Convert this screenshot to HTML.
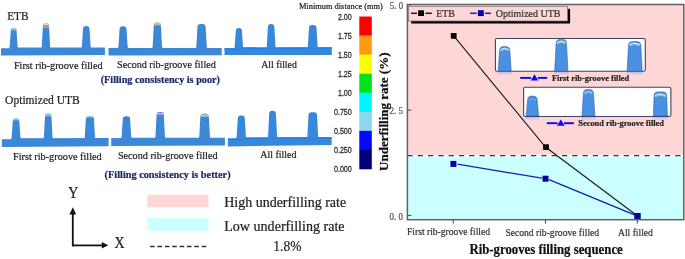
<!DOCTYPE html>
<html><head><meta charset="utf-8"><title>Rib-groove filling</title>
<style>
html,body{margin:0;padding:0;background:#fff;}
body{width:685px;height:259px;overflow:hidden;font-family:"Liberation Serif",serif;}
svg{display:block;filter:blur(0.3px);}
</style></head>
<body>
<svg width="685" height="259" viewBox="0 0 685 259">
<defs>
<linearGradient id="refl" x1="0" y1="0" x2="0" y2="1">
<stop offset="0" stop-color="#a8a4cc" stop-opacity="0.85"/>
<stop offset="1" stop-color="#ffffff" stop-opacity="0"/>
</linearGradient>
</defs>
<rect width="685" height="259" fill="#fff"/>
<text x="0" y="0" transform="translate(7.20 20.00) scale(0.9091 1)" font-family="Liberation Serif" font-size="12.43" stroke="#222" stroke-width="0.22" fill="#222">ETB</text>
<polygon points="1,48.30 13.65,48.31 13.65,47.41 104.9,47.50 104.9,55.00 1,55.40" fill="#3d87d9"/>
<path d="M8.27,48.81 L8.27,48.31 Q9.57,48.31 9.65,47.01 L10.77,30.68 Q10.82,27.80 13.65,27.80 L13.65,27.80 Q16.48,27.80 16.53,30.68 L17.65,47.01 Q17.73,48.31 19.03,48.31 L19.03,48.81 Z" fill="#3d87d9"/><clipPath id="rc1"><path d="M8.27,48.81 L8.27,48.31 Q9.57,48.31 9.65,47.01 L10.77,30.68 Q10.82,27.80 13.65,27.80 L13.65,27.80 Q16.48,27.80 16.53,30.68 L17.65,47.01 Q17.73,48.31 19.03,48.31 L19.03,48.81 Z"/></clipPath><g clip-path="url(#rc1)"><rect x="8.57" y="27.00" width="10.15" height="1.80" fill="#c4dcea"/><rect x="8.57" y="28.80" width="10.15" height="1.10" fill="#78dc8c"/><rect x="8.57" y="29.90" width="10.15" height="0.50" fill="#90c8d8"/></g>
<path d="M40.38,48.84 L40.38,48.34 Q41.68,48.34 41.74,47.04 L42.88,26.30 Q42.93,23.30 45.88,23.30 L46.02,23.30 Q48.98,23.30 49.02,26.30 L50.16,47.04 Q50.23,48.34 51.52,48.34 L51.52,48.84 Z" fill="#3d87d9"/><clipPath id="rc2"><path d="M40.38,48.84 L40.38,48.34 Q41.68,48.34 41.74,47.04 L42.88,26.30 Q42.93,23.30 45.88,23.30 L46.02,23.30 Q48.98,23.30 49.02,26.30 L50.16,47.04 Q50.23,48.34 51.52,48.34 L51.52,48.84 Z"/></clipPath><g clip-path="url(#rc2)"><rect x="40.68" y="23.00" width="10.55" height="2.40" fill="#e2dede"/><rect x="40.68" y="25.40" width="10.55" height="1.50" fill="#f07868"/><rect x="40.68" y="26.90" width="10.55" height="0.70" fill="#b8d0a0"/></g>
<path d="M80.48,48.88 L80.48,48.38 Q81.78,48.38 81.84,47.08 L82.98,28.90 Q83.03,25.90 85.98,25.90 L86.52,25.90 Q89.47,25.90 89.52,28.90 L90.66,47.08 Q90.72,48.38 92.02,48.38 L92.02,48.88 Z" fill="#3d87d9"/>
<polygon points="108.5,48.10 123.05,48.11 123.05,47.91 221.7,48.00 221.7,55.30 108.5,55.40" fill="#3d87d9"/>
<path d="M117.08,48.61 L117.08,48.11 Q118.38,48.11 118.45,46.81 L119.58,29.30 Q119.62,26.30 122.58,26.30 L123.52,26.30 Q126.47,26.30 126.52,29.30 L127.65,46.81 Q127.72,48.11 129.03,48.11 L129.03,48.61 Z" fill="#3d87d9"/>
<path d="M151.27,48.64 L151.27,48.14 Q152.57,48.14 152.64,46.84 L153.77,25.40 Q153.82,22.40 156.77,22.40 L157.93,22.40 Q160.88,22.40 160.93,25.40 L162.06,46.84 Q162.12,48.14 163.43,48.14 L163.43,48.64 Z" fill="#3d87d9"/><clipPath id="rc3"><path d="M151.27,48.64 L151.27,48.14 Q152.57,48.14 152.64,46.84 L153.77,25.40 Q153.82,22.40 156.77,22.40 L157.93,22.40 Q160.88,22.40 160.93,25.40 L162.06,46.84 Q162.12,48.14 163.43,48.14 L163.43,48.64 Z"/></clipPath><g clip-path="url(#rc3)"><rect x="151.57" y="22.00" width="11.55" height="1.60" fill="#dcdcd4"/><rect x="151.57" y="23.60" width="11.55" height="1.10" fill="#e8e448"/><rect x="151.57" y="24.70" width="11.55" height="0.70" fill="#a8d890"/></g>
<path d="M194.97,48.68 L194.97,48.18 Q196.28,48.18 196.34,46.88 L197.47,27.00 Q197.53,24.00 200.47,24.00 L202.63,24.00 Q205.58,24.00 205.63,27.00 L206.76,46.88 Q206.83,48.18 208.13,48.18 L208.13,48.68 Z" fill="#3d87d9"/>
<polygon points="224.5,48.30 238.85,48.29 238.85,47.39 331.8,47.30 331.8,54.90 224.5,54.90" fill="#3787dc"/>
<polygon points="224.5,48.30 238.85,48.29 238.85,47.39 331.8,47.30 331.8,49.00 238.85,49.09 238.85,49.99 224.5,50.00" fill="#1f81ea"/>
<path d="M233.27,48.79 L233.27,48.29 Q234.57,48.29 234.65,46.99 L235.77,31.00 Q235.82,28.00 238.77,28.00 L238.93,28.00 Q241.88,28.00 241.93,31.00 L243.05,46.99 Q243.12,48.29 244.43,48.29 L244.43,48.79 Z" fill="#3787dc"/>
<path d="M265.38,48.76 L265.38,48.26 Q266.68,48.26 266.74,46.96 L267.88,27.00 Q267.93,24.00 270.88,24.00 L271.33,24.00 Q274.28,24.00 274.33,27.00 L275.46,46.96 Q275.53,48.26 276.83,48.26 L276.83,48.76 Z" fill="#3787dc"/>
<path d="M306.47,48.72 L306.47,48.22 Q307.77,48.22 307.84,46.92 L308.97,28.10 Q309.02,25.10 311.97,25.10 L313.53,25.10 Q316.48,25.10 316.53,28.10 L317.66,46.92 Q317.73,48.22 319.03,48.22 L319.03,48.72 Z" fill="#3787dc"/>
<text x="0" y="0" transform="translate(13.90 68.60) scale(0.9259 1)" font-family="Liberation Serif" font-size="11.07" stroke="#222" stroke-width="0.22" fill="#222">First rib-groove filled</text>
<text x="0" y="0" transform="translate(117.10 67.70) scale(0.9259 1)" font-family="Liberation Serif" font-size="10.91" stroke="#222" stroke-width="0.22" fill="#222">Second rib-groove filled</text>
<text x="0" y="0" transform="translate(261.20 68.20) scale(0.9259 1)" font-family="Liberation Serif" font-size="10.58" stroke="#222" stroke-width="0.22" fill="#222">All filled</text>
<text x="0" y="0" transform="translate(100.70 82.70) scale(0.9259 1)" font-family="Liberation Serif" font-size="11.02" font-weight="bold" stroke="#1a2a68" stroke-width="0.22" fill="#1a2a68">(Filling consistency is poor)</text>
<text x="0" y="0" transform="translate(5.10 104.20) scale(0.9091 1)" font-family="Liberation Serif" font-size="12.71" stroke="#222" stroke-width="0.22" fill="#222">Optimized UTB</text>
<polygon points="1.8,139.20 16.05,139.16 16.05,138.26 108.6,138.00 108.6,146.20 1.8,147.00" fill="#3d87d9"/>
<path d="M10.28,139.66 L10.28,139.16 Q11.58,139.16 11.65,137.86 L12.78,121.30 Q12.83,118.30 15.78,118.30 L16.32,118.30 Q19.27,118.30 19.32,121.30 L20.45,137.86 Q20.52,139.16 21.82,139.16 L21.82,139.66 Z" fill="#3d87d9"/><clipPath id="rc4"><path d="M10.28,139.66 L10.28,139.16 Q11.58,139.16 11.65,137.86 L12.78,121.30 Q12.83,118.30 15.78,118.30 L16.32,118.30 Q19.27,118.30 19.32,121.30 L20.45,137.86 Q20.52,139.16 21.82,139.16 L21.82,139.66 Z"/></clipPath><g clip-path="url(#rc4)"><rect x="10.58" y="118.00" width="10.95" height="1.40" fill="#c8e0f0"/><rect x="10.58" y="119.40" width="10.95" height="0.90" fill="#a0dcd8"/></g>
<path d="M42.48,139.57 L42.48,139.07 Q43.78,139.07 43.84,137.77 L44.98,116.60 Q45.03,113.60 47.98,113.60 L48.42,113.60 Q51.38,113.60 51.42,116.60 L52.56,137.77 Q52.62,139.07 53.92,139.07 L53.92,139.57 Z" fill="#3d87d9"/><clipPath id="rc5"><path d="M42.48,139.57 L42.48,139.07 Q43.78,139.07 43.84,137.77 L44.98,116.60 Q45.03,113.60 47.98,113.60 L48.42,113.60 Q51.38,113.60 51.42,116.60 L52.56,137.77 Q52.62,139.07 53.92,139.07 L53.92,139.57 Z"/></clipPath><g clip-path="url(#rc5)"><rect x="42.78" y="113.00" width="10.85" height="1.60" fill="#c8e4dc"/><rect x="42.78" y="114.60" width="10.85" height="1.30" fill="#78d890"/><rect x="42.78" y="115.90" width="10.85" height="0.60" fill="#90c8c8"/></g>
<path d="M83.38,139.45 L83.38,138.95 Q84.68,138.95 84.74,137.65 L85.88,119.00 Q85.93,116.00 88.88,116.00 L90.92,116.00 Q93.88,116.00 93.92,119.00 L95.06,137.65 Q95.12,138.95 96.42,138.95 L96.42,139.45 Z" fill="#3d87d9"/><clipPath id="rc6"><path d="M83.38,139.45 L83.38,138.95 Q84.68,138.95 84.74,137.65 L85.88,119.00 Q85.93,116.00 88.88,116.00 L90.92,116.00 Q93.88,116.00 93.92,119.00 L95.06,137.65 Q95.12,138.95 96.42,138.95 L96.42,139.45 Z"/></clipPath><g clip-path="url(#rc6)"><rect x="83.68" y="116.40" width="12.45" height="0.90" fill="#d8e8f4"/></g>
<polygon points="111.2,138.10 126.45,138.13 126.45,137.63 224.9,137.80 224.9,145.40 111.2,146.10" fill="#3d87d9"/>
<path d="M120.28,138.63 L120.28,138.13 Q121.58,138.13 121.65,136.83 L122.78,119.20 Q122.83,116.20 125.78,116.20 L127.12,116.20 Q130.07,116.20 130.12,119.20 L131.25,136.83 Q131.32,138.13 132.62,138.13 L132.62,138.63 Z" fill="#3d87d9"/><clipPath id="rc7"><path d="M120.28,138.63 L120.28,138.13 Q121.58,138.13 121.65,136.83 L122.78,119.20 Q122.83,116.20 125.78,116.20 L127.12,116.20 Q130.07,116.20 130.12,119.20 L131.25,136.83 Q131.32,138.13 132.62,138.13 L132.62,138.63 Z"/></clipPath><g clip-path="url(#rc7)"><rect x="120.58" y="118.40" width="11.75" height="0.60" fill="#3a78c0"/></g>
<path d="M154.07,138.69 L154.07,138.19 Q155.38,138.19 155.43,136.89 L156.57,115.10 Q156.62,112.10 159.57,112.10 L160.82,112.10 Q163.77,112.10 163.82,115.10 L164.97,136.89 Q165.02,138.19 166.32,138.19 L166.32,138.69 Z" fill="#3d87d9"/><clipPath id="rc8"><path d="M154.07,138.69 L154.07,138.19 Q155.38,138.19 155.43,136.89 L156.57,115.10 Q156.62,112.10 159.57,112.10 L160.82,112.10 Q163.77,112.10 163.82,115.10 L164.97,136.89 Q165.02,138.19 166.32,138.19 L166.32,138.69 Z"/></clipPath><g clip-path="url(#rc8)"><rect x="154.38" y="111.80" width="11.65" height="1.20" fill="#8a80c8"/><rect x="154.38" y="113.00" width="11.65" height="1.60" fill="#b4bce8"/><rect x="154.38" y="114.60" width="11.65" height="0.60" fill="#7aa0d8"/></g>
<path d="M197.87,138.76 L197.87,138.26 Q199.17,138.26 199.24,136.96 L200.37,116.70 Q200.42,113.70 203.37,113.70 L205.83,113.70 Q208.78,113.70 208.83,116.70 L209.96,136.96 Q210.03,138.26 211.33,138.26 L211.33,138.76 Z" fill="#3d87d9"/><clipPath id="rc9"><path d="M197.87,138.76 L197.87,138.26 Q199.17,138.26 199.24,136.96 L200.37,116.70 Q200.42,113.70 203.37,113.70 L205.83,113.70 Q208.78,113.70 208.83,116.70 L209.96,136.96 Q210.03,138.26 211.33,138.26 L211.33,138.76 Z"/></clipPath><g clip-path="url(#rc9)"><rect x="198.17" y="113.40" width="12.85" height="1.20" fill="#8aa0c8"/><rect x="198.17" y="114.60" width="12.85" height="1.00" fill="#bef0f0"/><rect x="198.17" y="115.60" width="12.85" height="1.00" fill="#c8e070"/><rect x="198.17" y="116.60" width="12.85" height="0.50" fill="#80b8c0"/></g>
<polygon points="227.9,138.50 241.30,138.42 241.30,137.52 331.6,137.00 331.6,144.90 227.9,146.50" fill="#3787dc"/>
<polygon points="227.9,138.50 241.30,138.42 241.30,137.52 331.6,137.00 331.6,138.70 241.30,139.22 241.30,140.12 227.9,140.20" fill="#1f81ea"/>
<path d="M235.28,138.92 L235.28,138.42 Q236.58,138.42 236.64,137.12 L237.78,118.40 Q237.83,115.40 240.78,115.40 L241.83,115.40 Q244.78,115.40 244.83,118.40 L245.96,137.12 Q246.03,138.42 247.33,138.42 L247.33,138.92 Z" fill="#3787dc"/>
<path d="M266.68,138.74 L266.68,138.24 Q267.98,138.24 268.03,136.94 L269.18,113.80 Q269.23,110.80 272.18,110.80 L272.93,110.80 Q275.88,110.80 275.93,113.80 L277.07,136.94 Q277.12,138.24 278.43,138.24 L278.43,138.74 Z" fill="#3787dc"/>
<path d="M305.97,138.51 L305.97,138.01 Q307.27,138.01 307.34,136.71 L308.47,115.20 Q308.52,112.20 311.47,112.20 L314.03,112.20 Q316.98,112.20 317.03,115.20 L318.16,136.71 Q318.23,138.01 319.53,138.01 L319.53,138.51 Z" fill="#3787dc"/>
<text x="0" y="0" transform="translate(13.00 159.80) scale(0.9259 1)" font-family="Liberation Serif" font-size="11.07" stroke="#222" stroke-width="0.22" fill="#222">First rib-groove filled</text>
<text x="0" y="0" transform="translate(117.90 158.90) scale(0.9259 1)" font-family="Liberation Serif" font-size="11.02" stroke="#222" stroke-width="0.22" fill="#222">Second rib-groove filled</text>
<text x="0" y="0" transform="translate(260.20 158.10) scale(0.9259 1)" font-family="Liberation Serif" font-size="10.75" stroke="#222" stroke-width="0.22" fill="#222">All filled</text>
<text x="0" y="0" transform="translate(104.60 177.60) scale(0.9259 1)" font-family="Liberation Serif" font-size="11.12" font-weight="bold" stroke="#1a2a68" stroke-width="0.22" fill="#1a2a68">(Filling consistency is better)</text>
<text x="0" y="0" transform="translate(298.90 9.20) scale(0.9524 1)" font-family="Liberation Serif" font-size="8.82" stroke="#222" stroke-width="0.22" fill="#222">Minimum distance (mm)</text>
<rect x="359.3" y="16.50" width="12.5" height="19.36" fill="#ff0000"/>
<rect x="359.3" y="35.56" width="12.5" height="19.36" fill="#ff9a10"/>
<rect x="359.3" y="54.62" width="12.5" height="19.36" fill="#ffff00"/>
<rect x="359.3" y="73.69" width="12.5" height="19.36" fill="#00e21c"/>
<rect x="359.3" y="92.75" width="12.5" height="19.36" fill="#00f4ff"/>
<rect x="359.3" y="111.81" width="12.5" height="19.36" fill="#8cd6f0"/>
<rect x="359.3" y="130.88" width="12.5" height="19.36" fill="#0008ff"/>
<rect x="359.3" y="149.94" width="12.5" height="19.36" fill="#00007a"/>
<text x="0" y="0" transform="translate(351.8 19.80) scale(0.86 1)" text-anchor="end" font-family="Liberation Sans" font-size="8.3" fill="#2a2a2a" stroke="#2a2a2a" stroke-width="0.25">2.00</text>
<text x="0" y="0" transform="translate(351.8 38.86) scale(0.86 1)" text-anchor="end" font-family="Liberation Sans" font-size="8.3" fill="#2a2a2a" stroke="#2a2a2a" stroke-width="0.25">1.75</text>
<text x="0" y="0" transform="translate(351.8 57.92) scale(0.86 1)" text-anchor="end" font-family="Liberation Sans" font-size="8.3" fill="#2a2a2a" stroke="#2a2a2a" stroke-width="0.25">1.50</text>
<text x="0" y="0" transform="translate(351.8 76.99) scale(0.86 1)" text-anchor="end" font-family="Liberation Sans" font-size="8.3" fill="#2a2a2a" stroke="#2a2a2a" stroke-width="0.25">1.25</text>
<text x="0" y="0" transform="translate(351.8 96.05) scale(0.86 1)" text-anchor="end" font-family="Liberation Sans" font-size="8.3" fill="#2a2a2a" stroke="#2a2a2a" stroke-width="0.25">1.00</text>
<text x="0" y="0" transform="translate(351.8 115.11) scale(0.86 1)" text-anchor="end" font-family="Liberation Sans" font-size="8.3" fill="#2a2a2a" stroke="#2a2a2a" stroke-width="0.25">0.750</text>
<text x="0" y="0" transform="translate(351.8 134.18) scale(0.86 1)" text-anchor="end" font-family="Liberation Sans" font-size="8.3" fill="#2a2a2a" stroke="#2a2a2a" stroke-width="0.25">0.500</text>
<text x="0" y="0" transform="translate(351.8 153.24) scale(0.86 1)" text-anchor="end" font-family="Liberation Sans" font-size="8.3" fill="#2a2a2a" stroke="#2a2a2a" stroke-width="0.25">0.250</text>
<text x="0" y="0" transform="translate(351.8 172.30) scale(0.86 1)" text-anchor="end" font-family="Liberation Sans" font-size="8.3" fill="#2a2a2a" stroke="#2a2a2a" stroke-width="0.25">0.000</text>
<text x="0" y="0" transform="translate(68.30 198.00) scale(0.8929 1)" font-family="Liberation Serif" font-size="15.68" stroke="#222" stroke-width="0.22" fill="#222">Y</text>
<line x1="72.8" y1="213" x2="72.8" y2="246.3" stroke="#111" stroke-width="1.8"/>
<polygon points="72.8,207.3 69.4,214.6 76.2,214.6" fill="#111"/>
<line x1="72" y1="245.4" x2="103" y2="245.4" stroke="#111" stroke-width="1.8"/>
<polygon points="108.2,245.3 101.8,242.0 101.8,248.6" fill="#111"/>
<text x="0" y="0" transform="translate(114.40 248.00) scale(0.8929 1)" font-family="Liberation Serif" font-size="15.68" stroke="#222" stroke-width="0.22" fill="#222">X</text>
<rect x="147.5" y="194.8" width="61" height="12.5" fill="#ffd6d6"/>
<rect x="147.5" y="218" width="61" height="12.8" fill="#ccffff"/>
<line x1="150.1" y1="246.5" x2="206.3" y2="246.5" stroke="#303030" stroke-width="1.7" stroke-dasharray="4.6 2.77"/>
<text x="0" y="0" transform="translate(224.20 207.30) scale(0.9804 1)" font-family="Liberation Serif" font-size="14.28" stroke="#222" stroke-width="0.22" fill="#222">High underfilling rate</text>
<text x="0" y="0" transform="translate(224.20 231.00) scale(0.9804 1)" font-family="Liberation Serif" font-size="14.38" stroke="#222" stroke-width="0.22" fill="#222">Low underfilling rate</text>
<text x="0" y="0" transform="translate(273.30 251.40) scale(0.9259 1)" font-family="Liberation Serif" font-size="14.58" stroke="#222" stroke-width="0.22" fill="#222">1.8%</text>
<rect x="407.4" y="4.5" width="276.4" height="150.3" fill="#ffd6d6"/>
<rect x="407.4" y="156.3" width="276.4" height="63.4" fill="#ccffff"/>
<line x1="407.4" y1="155.6" x2="683.8" y2="155.6" stroke="#3a3a3a" stroke-width="1.4" stroke-dasharray="5.3 5.0"/>
<rect x="497.4" y="71.3" width="14.6" height="7" fill="url(#refl)"/>
<rect x="553.9" y="71.3" width="14.8" height="7" fill="url(#refl)"/>
<rect x="626.3" y="71.3" width="16.7" height="7" fill="url(#refl)"/>
<rect x="495.4" y="38.5" width="149.9" height="32.8" rx="1.8" fill="#fff" stroke="#3b4468" stroke-width="1.1"/>
<path d="M498.20,70.70 L499.60,50.80 Q499.60,46.60 503.80,46.60 L505.60,46.60 Q509.80,46.60 509.80,50.80 L511.20,70.70 Z" fill="#4a90e2" stroke="#2c62b8" stroke-width="0.6"/>
<path d="M554.70,70.70 L556.10,43.60 Q556.10,39.40 560.30,39.40 L562.30,39.40 Q566.50,39.40 566.50,43.60 L567.90,70.70 Z" fill="#4a90e2" stroke="#2c62b8" stroke-width="0.6"/>
<path d="M627.10,70.70 L628.50,45.80 Q628.50,41.60 632.70,41.60 L636.60,41.60 Q640.80,41.60 640.80,45.80 L642.20,70.70 Z" fill="#4a90e2" stroke="#2c62b8" stroke-width="0.6"/>
<path d="M500.60,49.60 Q504.70,46.80 508.80,49.60" fill="none" stroke="#e8f4fa" stroke-width="1.0"/>
<path d="M500.60,50.80 Q504.70,48.00 508.80,50.80" fill="none" stroke="#a8e090" stroke-width="0.9"/>
<path d="M557.10,42.40 Q561.30,39.60 565.50,42.40" fill="none" stroke="#eef6fa" stroke-width="1.0"/>
<path d="M557.10,43.70 Q561.30,40.90 565.50,43.70" fill="none" stroke="#b8e070" stroke-width="1.0"/>
<path d="M629.50,44.80 Q634.65,42.00 639.80,44.80" fill="none" stroke="#f0f6fa" stroke-width="1.1"/>
<path d="M629.50,46.00 Q634.65,43.20 639.80,46.00" fill="none" stroke="#b0d0f0" stroke-width="0.6"/>
<rect x="525.4" y="116.5" width="14.0" height="7" fill="url(#refl)"/>
<rect x="581.2" y="116.5" width="14.5" height="7" fill="url(#refl)"/>
<rect x="652.6" y="116.5" width="15.6" height="7" fill="url(#refl)"/>
<rect x="523.6" y="87.2" width="147.3" height="29.3" rx="1.8" fill="#fff" stroke="#3b4468" stroke-width="1.1"/>
<path d="M526.20,115.90 L527.60,100.30 Q527.60,96.10 531.80,96.10 L533.00,96.10 Q537.20,96.10 537.20,100.30 L538.60,115.90 Z" fill="#4a90e2" stroke="#2c62b8" stroke-width="0.6"/>
<path d="M582.00,115.90 L583.40,93.60 Q583.40,89.40 587.60,89.40 L589.30,89.40 Q593.50,89.40 593.50,93.60 L594.90,115.90 Z" fill="#4a90e2" stroke="#2c62b8" stroke-width="0.6"/>
<path d="M653.40,115.90 L654.10,95.50 Q654.10,91.90 657.70,91.90 L663.10,91.90 Q666.70,91.90 666.70,95.50 L667.40,115.90 Z" fill="#4a90e2" stroke="#2c62b8" stroke-width="0.6"/>
<path d="M528.60,100.30 Q532.40,97.50 536.20,100.30" fill="none" stroke="#8fb0d8" stroke-width="0.8"/>
<path d="M584.40,91.90 Q588.45,89.10 592.50,91.90" fill="none" stroke="#9a88d8" stroke-width="0.9"/>
<path d="M584.40,93.00 Q588.45,90.20 592.50,93.00" fill="none" stroke="#c8c8f4" stroke-width="1.0"/>
<path d="M584.40,94.00 Q588.45,91.20 592.50,94.00" fill="none" stroke="#98c0c8" stroke-width="0.7"/>
<path d="M655.10,94.50 Q660.40,91.70 665.70,94.50" fill="none" stroke="#9ab0d8" stroke-width="0.7"/>
<path d="M655.10,95.50 Q660.40,92.70 665.70,95.50" fill="none" stroke="#dff4f4" stroke-width="1.0"/>
<path d="M655.10,96.50 Q660.40,93.70 665.70,96.50" fill="none" stroke="#c8d870" stroke-width="1.0"/>
<line x1="520.2" y1="77.9" x2="531" y2="77.9" stroke="#0a0af0" stroke-width="1.9"/>
<line x1="537.8" y1="77.9" x2="547.2" y2="77.9" stroke="#0a0af0" stroke-width="1.9"/>
<polygon points="534.5,74.2 530.6,80.5 538.4,80.5" fill="#0a0af0"/>
<text x="0" y="0" transform="translate(551.90 80.70) scale(0.9524 1)" font-family="Liberation Serif" font-size="8.82" font-weight="bold" stroke="#222" stroke-width="0.22" fill="#222">First rib-groove filled</text>
<line x1="546.8" y1="123.2" x2="557.6" y2="123.2" stroke="#0a0af0" stroke-width="1.9"/>
<line x1="564" y1="123.2" x2="573.8" y2="123.2" stroke="#0a0af0" stroke-width="1.9"/>
<polygon points="560.8,119.6 556.9,125.8 564.7,125.8" fill="#0a0af0"/>
<text x="0" y="0" transform="translate(578.30 125.70) scale(0.9524 1)" font-family="Liberation Serif" font-size="8.82" font-weight="bold" stroke="#222" stroke-width="0.22" fill="#222">Second rib-groove filled</text>
<polyline points="453.5,35.7 545.5,147 637.5,216" fill="none" stroke="#1a1a1a" stroke-width="1.1"/>
<polyline points="457.5,164.2 542,178.2" fill="none" stroke="#1c1cb0" stroke-width="1.3"/>
<polyline points="549,179.6 634.5,214.8" fill="none" stroke="#1c1cb0" stroke-width="1.3"/>
<rect x="450.80" y="32.90" width="5.8" height="5.8" rx="0.4" fill="#000"/>
<rect x="543.10" y="144.15" width="5.8" height="5.8" rx="0.4" fill="#000"/>
<rect x="634.60" y="213.10" width="5.8" height="5.8" rx="0.4" fill="#000"/>
<rect x="450.40" y="160.90" width="6" height="6" fill="#0000a8"/>
<rect x="542.50" y="175.70" width="6" height="6" fill="#0000a8"/>
<rect x="634.50" y="213.00" width="6" height="6" fill="#0000a8"/>
<rect x="411.2" y="8.8" width="158.9" height="14.7" fill="#000"/>
<rect x="408.7" y="6.3" width="158.9" height="14.7" fill="#ffd6d6" stroke="#777" stroke-width="0.8"/>
<line x1="411" y1="13.3" x2="416.9" y2="13.3" stroke="#1a1a1a" stroke-width="1.5"/>
<line x1="425.3" y1="13.3" x2="431.8" y2="13.3" stroke="#1a1a1a" stroke-width="1.5"/>
<rect x="418.1" y="10.2" width="5.9" height="5.8" rx="0.5" fill="#000"/>
<text x="0" y="0" transform="translate(436.20 16.60) scale(0.9524 1)" font-family="Liberation Serif" font-size="10.40" stroke="#333" stroke-width="0.22" fill="#333">ETB</text>
<line x1="470" y1="13.3" x2="476.8" y2="13.3" stroke="#2020c0" stroke-width="1.5"/>
<line x1="485" y1="13.3" x2="491" y2="13.3" stroke="#2020c0" stroke-width="1.5"/>
<rect x="477.9" y="10.2" width="5.9" height="5.9" fill="#0000a8"/>
<text x="0" y="0" transform="translate(495.80 16.60) scale(0.9524 1)" font-family="Liberation Serif" font-size="10.50" stroke="#333" stroke-width="0.22" fill="#333">Optimized UTB</text>
<rect x="407.4" y="4.5" width="276.4" height="215.2" fill="none" stroke="#626262" stroke-width="1.5"/>
<line x1="407.4" y1="215.4" x2="411.4" y2="215.4" stroke="#555" stroke-width="1.1"/>
<line x1="407.4" y1="110.1" x2="411.4" y2="110.1" stroke="#555" stroke-width="1.1"/>
<line x1="407.4" y1="4.8" x2="411.4" y2="4.8" stroke="#555" stroke-width="1.1"/>
<line x1="453.3" y1="219.7" x2="453.3" y2="223.6" stroke="#555" stroke-width="1.1"/>
<line x1="545.5" y1="219.7" x2="545.5" y2="223.6" stroke="#555" stroke-width="1.1"/>
<line x1="637.3" y1="219.7" x2="637.3" y2="223.6" stroke="#555" stroke-width="1.1"/>
<text x="0" y="0" transform="translate(389.60 219.60) scale(0.9524 1)" font-family="Liberation Serif" font-size="9.35" stroke="#555" stroke-width="0.22" fill="#555">0. 0</text>
<text x="0" y="0" transform="translate(389.60 114.20) scale(0.9524 1)" font-family="Liberation Serif" font-size="9.35" stroke="#555" stroke-width="0.22" fill="#555">2. 5</text>
<text x="0" y="0" transform="translate(389.80 8.90) scale(0.9524 1)" font-family="Liberation Serif" font-size="9.35" stroke="#555" stroke-width="0.22" fill="#555">5. 0</text>
<text x="0" y="0" transform="translate(407.00 235.40) scale(0.9524 1)" font-family="Liberation Serif" font-size="10.08" stroke="#333" stroke-width="0.22" fill="#333">First rib-groove filled</text>
<text x="0" y="0" transform="translate(505.40 235.60) scale(0.9524 1)" font-family="Liberation Serif" font-size="10.08" stroke="#333" stroke-width="0.22" fill="#333">Second rib-groove filled</text>
<text x="0" y="0" transform="translate(618.00 235.60) scale(0.9524 1)" font-family="Liberation Serif" font-size="10.08" stroke="#333" stroke-width="0.22" fill="#333">All filled</text>
<text x="0" y="0" transform="translate(469.40 253.70) scale(0.9434 1)" font-family="Liberation Serif" font-size="13.57" font-weight="bold" stroke="#111" stroke-width="0.22" fill="#111">Rib-grooves filling sequence</text>
<text x="0" y="0" transform="translate(387.60 170.90) rotate(-90)" font-family="Liberation Serif" font-size="13.00" font-weight="bold" stroke="#111" stroke-width="0.22" fill="#111">Underfilling rate (%)</text>
</svg>
</body></html>
